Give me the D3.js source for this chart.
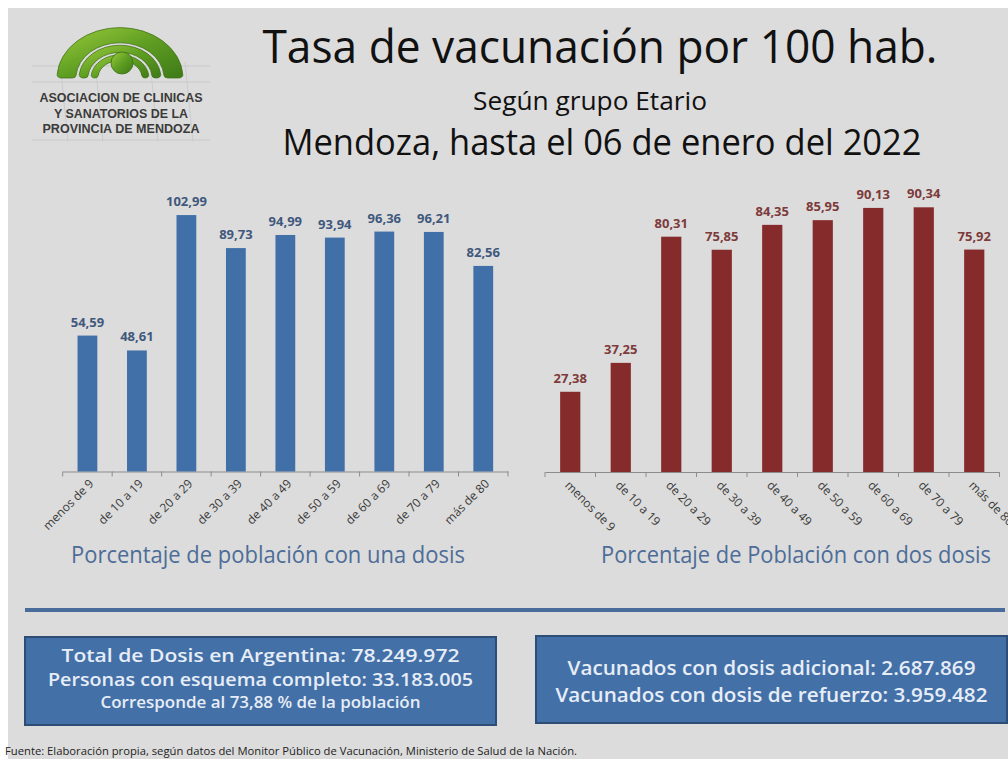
<!DOCTYPE html>
<html>
<head>
<meta charset="utf-8">
<script src="https://cdn.jsdelivr.net/npm/d3@7"></script>
<style>
  body { margin: 0; background: #fff; }
  svg { display: block; }
</style>
</head>
<body>
<div id="chart"></div>
<script>
// data
const ageGroups = ["menos de 9", "de 10 a 19", "de 20 a 29", "de 30 a 39", "de 40 a 49",
                   "de 50 a 59", "de 60 a 69", "de 70 a 79", "más de 80"];
const oneDose = [54.59, 48.61, 102.99, 89.73, 94.99, 93.94, 96.36, 96.21, 82.56];
const twoDoses = [27.38, 37.25, 80.31, 75.85, 84.35, 85.95, 90.13, 90.34, 75.92];

const titleLines = ["Tasa de vacunación por 100 hab.", "Según grupo Etario", "Mendoza, hasta el 06 de enero del 2022"];
const logoLines = ["ASOCIACION DE CLINICAS", "Y SANATORIOS DE LA", "PROVINCIA DE MENDOZA"];
const boxLeft = ["Total de Dosis  en Argentina: 78.249.972", "Personas con esquema completo: 33.183.005", "Corresponde al 73,88 % de la población"];
const boxRight = ["Vacunados con dosis adicional: 2.687.869", "Vacunados con dosis de refuerzo: 3.959.482"];
const source = "Fuente: Elaboración propia, según datos del Monitor Público de Vacunación, Ministerio de Salud de la Nación.";

const W = 1008, H = 759;
const font = "'Open Sans', 'Noto Sans', sans-serif";

let svg = d3.select("#chart").append("svg")
  .attr("width", W)
  .attr("height", H);

// grey slide background with the white edge
svg.append("rect").attr("width", W).attr("height", H).attr("fill", "#ffffff");
svg.append("rect").attr("x", 8).attr("y", 8).attr("width", W - 8).attr("height", H - 8).attr("fill", "#dcdcdc");

// ---- logo ----
let defs = svg.append("defs");
let grad = defs.append("linearGradient").attr("id", "green")
  .attr("x1", "0").attr("y1", "0").attr("x2", "1").attr("y2", "1");
grad.append("stop").attr("offset", "0%").attr("stop-color", "#9ccc3c");
grad.append("stop").attr("offset", "50%").attr("stop-color", "#5f9e22");
grad.append("stop").attr("offset", "100%").attr("stop-color", "#3f7a18");

let logo = svg.append("g");
// faint grid behind the letters
[66, 82, 140].forEach(function(y) {
  logo.append("line").attr("x1", 32).attr("x2", 210).attr("y1", y).attr("y2", y)
    .attr("stroke", "#c8c8c8").attr("stroke-width", 1);
});
[60, 95, 150, 185].forEach(function(x) {
  logo.append("line").attr("x1", x).attr("x2", x + 8).attr("y1", 62).attr("y2", 142)
    .attr("stroke", "#cccccc").attr("stroke-width", 1);
});

let arch = logo.append("g").attr("transform", "translate(120,78) scale(1,0.8)");
let arcGen = d3.arc().startAngle(-Math.PI / 2).endAngle(Math.PI / 2).cornerRadius(4);
[[44, 63], [32, 41], [22, 29]].forEach(function(r) {
  arch.append("path")
    .attr("d", arcGen({innerRadius: r[0], outerRadius: r[1]}))
    .attr("fill", "url(#green)")
    .attr("stroke", "#3d6e16").attr("stroke-width", 0.8);
});
logo.append("circle").attr("cx", 122).attr("cy", 63).attr("r", 11)
  .attr("fill", "url(#green)").attr("stroke", "#3d6e16").attr("stroke-width", 0.8);

logo.selectAll("text.logo")
  .data(logoLines)
  .enter().append("text")
  .attr("class", "logo")
  .attr("x", 121)
  .attr("y", function(d, i) { return 102 + i * 15.5; })
  .attr("text-anchor", "middle")
  .attr("textLength", function(d, i) { return [163, 134, 157][i]; })
  .attr("lengthAdjust", "spacingAndGlyphs")
  .style("font-family", "'Liberation Sans', Arial, sans-serif")
  .style("font-weight", "bold")
  .style("font-size", "13.5px")
  .attr("fill", "#3a3a3a")
  .text(d => d);

// ---- titles ----
const titleSpec = [
  {y: 63, size: 46, len: 675},
  {y: 110, size: 26, len: 234},
  {y: 155, size: 36, len: 639}
];
svg.selectAll("text.title")
  .data(titleLines)
  .enter().append("text")
  .attr("class", "title")
  .attr("x", function(d, i) { return [600, 590, 602][i]; })
  .attr("y", function(d, i) { return titleSpec[i].y; })
  .attr("text-anchor", "middle")
  .attr("textLength", function(d, i) { return titleSpec[i].len; })
  .attr("lengthAdjust", "spacingAndGlyphs")
  .style("font-family", font)
  .style("font-size", function(d, i) { return titleSpec[i].size + "px"; })
  .attr("fill", "#111")
  .text(d => d);

// ---- bar charts ----
function barChart(opts) {
  let g = svg.append("g");

  let x = d3.scaleBand()
    .domain(ageGroups)
    .range([opts.x0, opts.x1])
    .paddingInner(0.6)
    .paddingOuter(0.3);

  let y = d3.scaleLinear()
    .domain([0, opts.yMax])
    .range([opts.base, opts.top]);

  // axis line
  g.append("g")
    .attr("transform", "translate(0," + opts.base + ")")
    .call(d3.axisBottom(x).tickSize(0).tickFormat(""))
    .call(a => a.select(".domain").attr("stroke", "#8c8c8c").attr("stroke-width", 1.2));

  // tick marks on the category boundaries
  g.selectAll("line.tick")
    .data(d3.range(ageGroups.length + 1))
    .enter().append("line")
    .attr("x1", i => x.range()[0] + i * x.step())
    .attr("x2", i => x.range()[0] + i * x.step())
    .attr("y1", opts.base)
    .attr("y2", opts.base + 5)
    .attr("stroke", "#8c8c8c");

  g.selectAll("rect.bar")
    .data(opts.values)
    .enter().append("rect")
    .attr("class", "bar")
    .attr("x", (d, i) => x(ageGroups[i]))
    .attr("y", d => y(d))
    .attr("width", x.bandwidth())
    .attr("height", d => y(0) - y(d))
    .attr("fill", opts.color);

  g.selectAll("text.val")
    .data(opts.values)
    .enter().append("text")
    .attr("class", "val")
    .attr("x", (d, i) => x(ageGroups[i]) + x.bandwidth() / 2)
    .attr("y", d => y(d) - 9)
    .attr("text-anchor", "middle")
    .style("font-family", font)
    .style("font-weight", "bold")
    .style("font-size", "13px")
    .attr("fill", opts.labelColor)
    .text(d => d.toFixed(2).replace(".", ","));

  // rotated category labels
  g.selectAll("text.cat")
    .data(ageGroups)
    .enter().append("text")
    .attr("class", "cat")
    .attr("transform", function(d) {
      let cx = x(d) + x.bandwidth() / 2;
      return opts.rot < 0
        ? "translate(" + (cx + 4) + "," + (opts.base + 10) + ") rotate(-45)"
        : "translate(" + (cx - 3) + "," + (opts.base + 11) + ") rotate(45)";
    })
    .attr("text-anchor", opts.rot < 0 ? "end" : "start")
    .attr("dy", "0.35em")
    .style("font-family", font)
    .style("font-size", "12px")
    .attr("fill", "#3a3a3a")
    .text(d => d);

  // chart caption, right-aligned so it stays inside the slide
  g.append("text")
    .attr("x", opts.titleX + opts.titleLen / 2)
    .attr("y", 563)
    .attr("text-anchor", "end")
    .attr("textLength", opts.titleLen)
    .attr("lengthAdjust", "spacingAndGlyphs")
    .style("font-family", font)
    .style("font-size", "23px")
    .attr("fill", "#4d6d98")
    .text(opts.title);
}

barChart({
  values: oneDose, x0: 62.7, x1: 508, base: 471.5, top: 471.5 - 2.49 * 120, yMax: 120,
  color: "#4170a8", labelColor: "#3f587c", rot: -1,
  title: "Porcentaje de población con una dosis", titleX: 268, titleLen: 394
});
barChart({
  values: twoDoses, x0: 545, x1: 999.5, base: 472, top: 472 - 2.93 * 100, yMax: 100,
  color: "#862b2b", labelColor: "#7c3a3a", rot: 1,
  title: "Porcentaje de Población con dos dosis", titleX: 796, titleLen: 390
});

// ---- separator rule ----
svg.append("line")
  .attr("x1", 25).attr("x2", 1005).attr("y1", 610).attr("y2", 610)
  .attr("stroke", "#4a6c9b").attr("stroke-width", 4);

// ---- info boxes ----
function infoBox(x0, y0, x1, y1, lines, spec) {
  svg.append("rect")
    .attr("x", x0).attr("y", y0).attr("width", x1 - x0).attr("height", y1 - y0)
    .attr("fill", "#4470a8").attr("stroke", "#2d4d77").attr("stroke-width", 2);
  svg.selectAll(null)
    .data(lines)
    .enter().append("text")
    .attr("x", (x0 + x1) / 2)
    .attr("y", (d, i) => spec[i].y)
    .attr("text-anchor", "middle")
    .attr("textLength", (d, i) => spec[i].len)
    .attr("lengthAdjust", "spacingAndGlyphs")
    .style("font-family", font)
    .style("font-weight", "600")
    .style("font-size", (d, i) => spec[i].size + "px")
    .attr("fill", "#e6edf6")
    .text(d => d);
}

infoBox(25, 637, 496, 725, boxLeft, [
  {y: 662, size: 18.5, len: 398},
  {y: 686, size: 18.5, len: 425},
  {y: 708, size: 16, len: 320}
]);
infoBox(536, 636, 1007, 723, boxRight, [
  {y: 675, size: 20.5, len: 408},
  {y: 702, size: 20.5, len: 432}
]);

// ---- source note (at the bottom edge) ----
svg.append("text")
  .attr("x", 5).attr("y", 755)
  .attr("textLength", 572)
  .attr("lengthAdjust", "spacingAndGlyphs")
  .style("font-family", font)
  .style("font-size", "10px")
  .attr("fill", "#222")
  .text(source);
</script>
</body>
</html>
